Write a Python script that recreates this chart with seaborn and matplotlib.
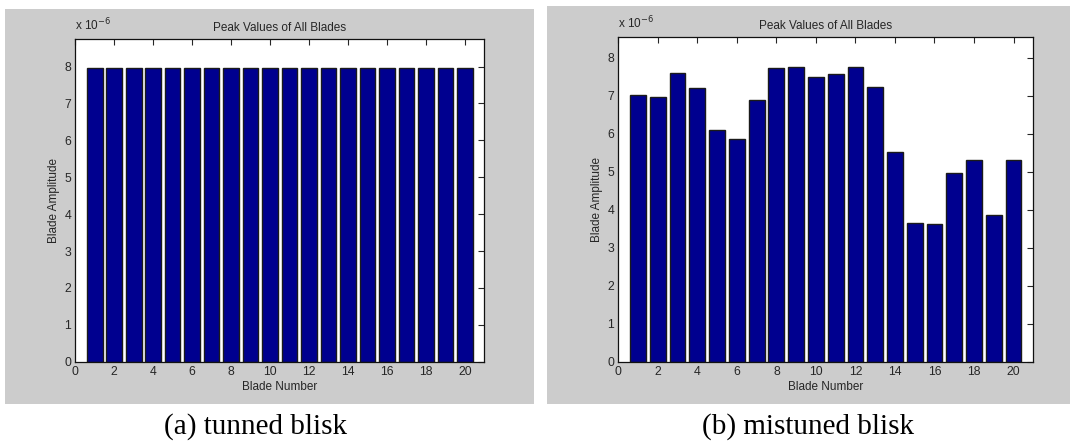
import numpy as np
import pandas as pd
import matplotlib
matplotlib.use("Agg")
import matplotlib.pyplot as plt
from matplotlib.patches import Rectangle
import seaborn as sns

# ---- data (amplitudes in units of 1e-6) ----
blades = list(range(1, 21))
tuned_peak = [7.95] * 20
mistuned_peak = [7.02, 6.97, 7.60, 7.20, 6.10, 5.85, 6.90, 7.72, 7.75, 7.50,
                 7.57, 7.77, 7.22, 5.52, 3.65, 3.62, 4.97, 5.30, 3.87, 5.30]
x_ticks = list(range(0, 21, 2))
y_ticks = list(range(0, 9))
captions = ["(a) tunned blisk", "(b) mistuned blisk"]
title = "Peak Values of All Blades"

sns.set_style("white")
plt.rcParams["font.family"] = ["Liberation Sans", "DejaVu Sans"]

W, H = 1072, 441
fig = plt.figure(figsize=(W / 100, H / 100), dpi=100)
fig.patch.set_facecolor("white")

def fx(px):
    return px / W

def fy(py):
    return 1 - py / H

# gray panel backgrounds
for (x0, y0, x1, y1) in [(5, 9, 534, 404), (547, 6, 1070, 404)]:
    fig.patches.append(Rectangle((fx(x0), fy(y1)), fx(x1 - x0), (y1 - y0) / H,
                                 transform=fig.transFigure, facecolor="#cccccc",
                                 edgecolor="none", zorder=-5))

axes_px = [(75.3, 39.3, 484.3, 361.7), (618.3, 37.3, 1033.3, 361.7)]
ymax = [8.74, 8.54]
data = [tuned_peak, mistuned_peak]
txt = "#262626"

for i in range(2):
    x0, y0, x1, y1 = axes_px[i]
    ax = fig.add_axes([fx(x0), fy(y1), fx(x1 - x0), (y1 - y0) / H])
    ax.set_zorder(2)
    ax.set_facecolor("white")
    df = pd.DataFrame({"blade": blades, "amp": data[i]})
    sns.barplot(data=df, x="blade", y="amp", native_scale=True, width=0.8,
                color="#00008f", saturation=1, edgecolor="#1a1a1a",
                linewidth=1.0, ax=ax, errorbar=None)
    for p in ax.patches:
        p.set_edgecolor("#1a1a1a")
        p.set_linewidth(1.0)
    ax.set_xlim(0, 21)
    ax.set_ylim(0, ymax[i])
    ax.set_xticks(x_ticks)
    ax.set_yticks(y_ticks)
    ax.tick_params(direction="in", length=4, width=0.8, top=True, right=True,
                   labelsize=8.8, colors=txt, pad=3)
    for lab in ax.get_xticklabels() + ax.get_yticklabels():
        lab.set_color(txt)
    for s in ax.spines.values():
        s.set_visible(True)
        s.set_color("#111111")
        s.set_linewidth(0.9)
    ax.set_xlabel("Blade Number", fontsize=8.5, color=txt, labelpad=2)
    ax.set_ylabel("Blade Amplitude", fontsize=8.5, color=txt, labelpad=3)
    ax.set_title(title, fontsize=8.5, color=txt, pad=6)
    ax.text(0.0, 1.02, r"x 10$^{-6}$", transform=ax.transAxes, fontsize=8.5,
            color=txt, ha="left", va="bottom")

# captions
fig.text(fx(255), fy(427), captions[0], family=["Liberation Serif", "DejaVu Serif"],
         fontsize=21, ha="center", va="center", color="black")
fig.text(fx(808), fy(427), captions[1], family=["Liberation Serif", "DejaVu Serif"],
         fontsize=21, ha="center", va="center", color="black")

fig.savefig("out.png", dpi=100, facecolor="white")
